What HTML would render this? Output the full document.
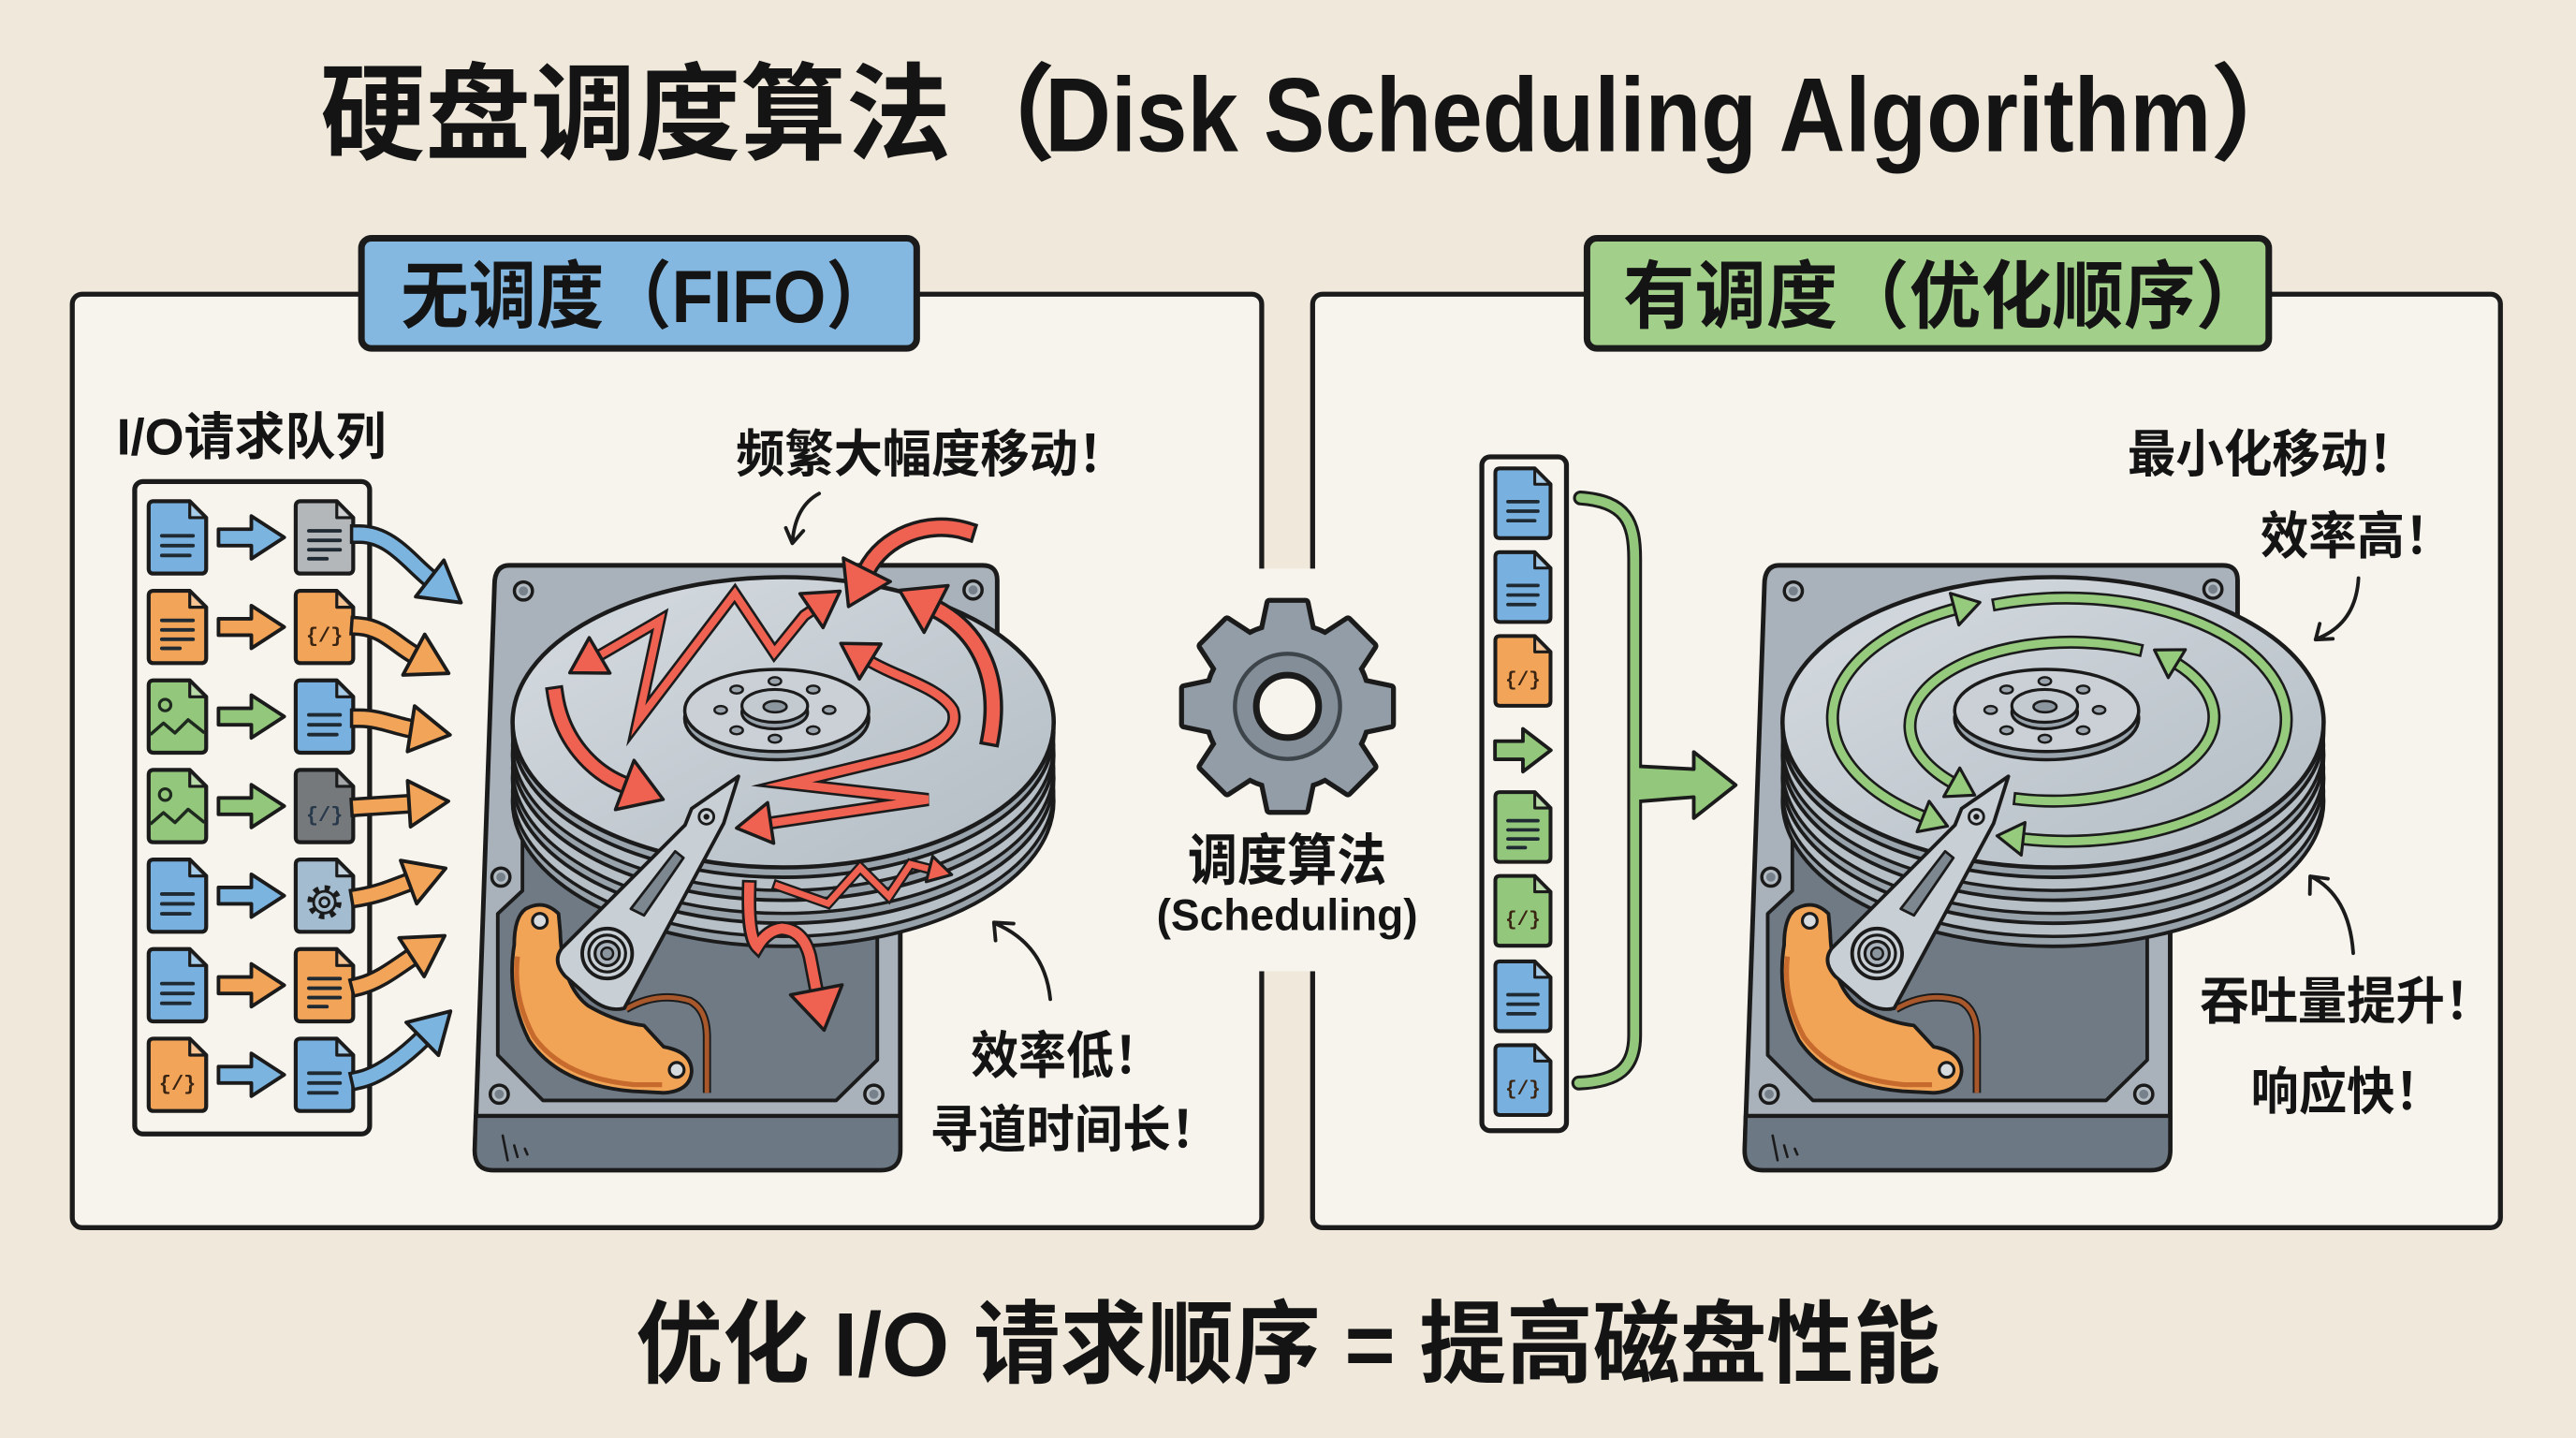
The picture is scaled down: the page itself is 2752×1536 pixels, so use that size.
<!DOCTYPE html>
<html><head><meta charset="utf-8">
<style>
html,body{margin:0;padding:0;background:#efe8db;overflow:hidden}
svg{display:block}
text{font-family:"Liberation Sans","Noto Sans CJK SC",sans-serif;font-weight:700;fill:#141414}
.code{font-family:"Liberation Mono","DejaVu Sans Mono",monospace;font-size:12.5px;font-weight:700;fill:#3a2412}
.d{stroke:#1b1b1b;stroke-width:2.4;stroke-linejoin:round}
.ko{fill:none;stroke:#1b1b1b;stroke-linecap:square;stroke-linejoin:miter;stroke-miterlimit:6}
.kc{fill:none;stroke-linecap:square;stroke-linejoin:miter;stroke-miterlimit:6}
.an{fill:none;stroke:#1b1b1b;stroke-width:2.2;stroke-linecap:round;stroke-linejoin:round}
</style></head><body>
<svg width="2752" height="1536" viewBox="0 0 1568 875" preserveAspectRatio="none" xmlns="http://www.w3.org/2000/svg">
<defs>
 <linearGradient id="plat" x1="0" y1="0" x2="1" y2="1"><stop offset="0" stop-color="#d6dce1"/><stop offset="1" stop-color="#b3bcc4"/></linearGradient>
 <marker id="mb" markerUnits="userSpaceOnUse" viewBox="-3 -3 31 34" refX="1" refY="14" markerWidth="31" markerHeight="34" orient="auto"><path d="M0,0 L24,14 L0,28 Z" fill="#7cb4e0" stroke="#1b1b1b" stroke-width="2.2" stroke-linejoin="round"/></marker>
 <marker id="mo" markerUnits="userSpaceOnUse" viewBox="-3 -3 31 34" refX="1" refY="14" markerWidth="31" markerHeight="34" orient="auto"><path d="M0,0 L24,14 L0,28 Z" fill="#f2a459" stroke="#1b1b1b" stroke-width="2.2" stroke-linejoin="round"/></marker>
 <marker id="rm" markerUnits="userSpaceOnUse" viewBox="-3 -3 28 31" refX="1" refY="12.5" markerWidth="28" markerHeight="31" orient="auto-start-reverse"><path d="M0,0 L21,12.5 L0,25 Z" fill="#ef6150" stroke="#1b1b1b" stroke-width="2" stroke-linejoin="round"/></marker>
 <marker id="rl" markerUnits="userSpaceOnUse" viewBox="-3 -3 32 38" refX="1" refY="16" markerWidth="32" markerHeight="38" orient="auto-start-reverse"><path d="M0,0 L25,16 L0,32 Z" fill="#ef6150" stroke="#1b1b1b" stroke-width="2" stroke-linejoin="round"/></marker>
 <marker id="rs" markerUnits="userSpaceOnUse" viewBox="-3 -3 21 22" refX="1" refY="8" markerWidth="21" markerHeight="22" orient="auto"><path d="M0,0 L14,8 L0,16 Z" fill="#ef6150" stroke="#1b1b1b" stroke-width="1.8" stroke-linejoin="round"/></marker>
 <marker id="mg" markerUnits="userSpaceOnUse" viewBox="-3 -3 23 26" refX="1" refY="10" markerWidth="23" markerHeight="26" orient="auto-start-reverse"><path d="M0,0 L16,10 L0,20 Z" fill="#96cb7e" stroke="#1b1b1b" stroke-width="1.8" stroke-linejoin="round"/></marker>

 <path id="docp" d="M3,0 H25 L35,10 V41 Q35,44 32,44 H3 Q0,44 0,41 V3 Q0,0 3,0 Z"/>
 <path id="fold" d="M25,0 V10 H35 Z" fill="#ffffff" fill-opacity="0.35" stroke="#1b1b1b" stroke-width="1.8" stroke-linejoin="round"/>
 <path id="l3" d="M8,21H27M8,27H27M8,33H25" fill="none" stroke="#1f2a33" stroke-width="2.2" stroke-linecap="round"/>
 <path id="l4" d="M8,18H27M8,23.8H27M8,29.5H27M8,35H19" fill="none" stroke="#1f2a33" stroke-width="2.2" stroke-linecap="round"/>
 <g id="img"><circle cx="10" cy="15" r="3.5" fill="none" stroke="#1f2a1f" stroke-width="1.8"/><polyline points="1,33 9,26 16,32 24,24 34,32" fill="none" stroke="#1f2a1f" stroke-width="2" stroke-linejoin="round"/></g>
 <g id="gearic"><circle cx="17.5" cy="26" r="8.2" fill="none" stroke="#1b1b1b" stroke-width="4.4" stroke-dasharray="3 3.44"/><circle cx="17.5" cy="26" r="6.6" fill="#a6bed0" stroke="#1b1b1b" stroke-width="1.6"/><circle cx="17.5" cy="26" r="2.8" fill="none" stroke="#1b1b1b" stroke-width="1.6"/></g>
 <path id="arr" d="M0,-5 H20 V-13 L40,0 L20,13 V5 H0 Z" stroke="#1b1b1b" stroke-width="2.2" stroke-linejoin="round"/>
 <g id="screw"><circle r="5.5" fill="#b3bbc2" stroke="#1b1b1b" stroke-width="2"/><circle r="2.8" fill="#76818b"/></g>
 <path id="tooth" d="M-15,-44 L-11,-63 L11,-63 L15,-44 Z"/>

 <path id="o1" d="M219,325 C238,325 250,343 262.4,352.6"/>
 <path id="o2" d="M219,381 C233,382 242,393 252.8,398.8"/>
 <path id="o3" d="M219,437 C231,437 241,442 251.2,443.6"/>
 <path id="o4" d="M219,491 L250,489"/>
 <path id="o5" d="M219,546 C231,544 240,540 249.7,536.4"/>
 <path id="o6" d="M219,600 C231,597 242,588 251.4,581.9"/>
 <path id="o7" d="M219,657 C232,654 247,642 257.8,631.4"/>

 <path id="pA" d="M364.1,399.3 L401.5,377.5 L388.4,438.6 L447.3,361.1 L471.3,397.1 L489.5,374.6 L494.8,371"/>
 <path id="pB" d="M588,323 C565,316 538,326 527.2,347.6"/>
 <path id="pC" d="M603,448 C609,415 598,385 568.9,370.1"/>
 <path id="pD" d="M528.8,402 C545,412 572,418 580,432 C585,447 565,456 547.6,460.4 L480,476.8 L565,486.5 L468.1,500.9"/>
 <path id="pE" d="M338,423 C342,450 360,470 381.2,478"/>
 <path id="pF" d="M473.5,539 L504,549.8 L523.6,528 L541,545.4 L554.2,525.8 L566.7,529"/>
 <path id="pG" d="M456,540 Q455,570 461,576 Q467,566 476,565 Q489,566 493,582 L497.1,603.3"/>

 <path id="g1" d="M1216.6,367.5 A133.7,74 0 1 1 1230.5,510.3"/>
 <path id="g2" d="M1171.5,497.2 A133.7,74 0 0 1 1190.7,370.4"/>
 <path id="g3" d="M1300.3,395.1 A98,51 0 0 0 1188.9,476.5"/>
 <path id="g4" d="M1229.4,486.3 A98,51 0 0 0 1324.2,403.3"/>

 <g id="disk">
  <path d="M303,642 L303,556 L318,542 L318,470 L534,470 L534,645 L509,669.6 L330.5,669.6 Z" fill="#6f7a85" stroke="#1b1b1b" stroke-width="2.2" stroke-linejoin="round"/>
  <path d="M289.6,679 L548,679 L548,700 Q548,712 536,712 L300,712 Q289,712 289,700 Z" fill="#6c7883" stroke="#1b1b1b" stroke-width="2.5" stroke-linejoin="round"/>
  <path d="M306,691 L309,706 M313,697 L315,704 M319.5,699 L321,702.5" stroke="#1b1b1b" stroke-width="1.5" stroke-linecap="round"/>
  <use href="#screw" x="318.6" y="359.6"/>
  <use href="#screw" x="304.9" y="533.7"/>
  <use href="#screw" x="303.9" y="665.8"/>
  <use href="#screw" x="531.9" y="665.8"/>
  <ellipse cx="476.7" cy="487.5" rx="164.7" ry="88.3" fill="#98a2ab" stroke="#1b1b1b" stroke-width="2.2"/>
  <ellipse cx="476.7" cy="481.5" rx="164.7" ry="88.3" fill="#b8c0c7" stroke="#1b1b1b" stroke-width="2"/>
  <ellipse cx="476.7" cy="473.5" rx="164.7" ry="88.3" fill="#98a2ab" stroke="#1b1b1b" stroke-width="2.2"/>
  <ellipse cx="476.7" cy="467.5" rx="164.7" ry="88.3" fill="#b8c0c7" stroke="#1b1b1b" stroke-width="2"/>
  <ellipse cx="476.7" cy="459.5" rx="164.7" ry="88.3" fill="#98a2ab" stroke="#1b1b1b" stroke-width="2.2"/>
  <ellipse cx="476.7" cy="453.5" rx="164.7" ry="88.3" fill="#b8c0c7" stroke="#1b1b1b" stroke-width="2"/>
  <ellipse cx="476.7" cy="445.5" rx="164.7" ry="88.3" fill="#9aa4ad" stroke="#1b1b1b" stroke-width="2.2"/>
  <ellipse cx="476.7" cy="439.5" rx="164.7" ry="88.3" fill="url(#plat)" stroke="#1b1b1b" stroke-width="2.6"/>
  <ellipse cx="472.8" cy="437.3" rx="56" ry="25" fill="#9aa4ac" stroke="#1b1b1b" stroke-width="2"/>
  <ellipse cx="472.8" cy="432.3" rx="56" ry="25" fill="#cad0d5" stroke="#1b1b1b" stroke-width="2"/>
  <g fill="#9aa3ab" stroke="#1b1b1b" stroke-width="1.4">
   <ellipse cx="504.7" cy="432" rx="3.8" ry="2.4"/>
   <ellipse cx="495" cy="444.4" rx="3.8" ry="2.4"/>
   <ellipse cx="471.7" cy="449.5" rx="3.8" ry="2.4"/>
   <ellipse cx="448.4" cy="444.4" rx="3.8" ry="2.4"/>
   <ellipse cx="438.7" cy="432" rx="3.8" ry="2.4"/>
   <ellipse cx="448.4" cy="419.6" rx="3.8" ry="2.4"/>
   <ellipse cx="471.7" cy="414.5" rx="3.8" ry="2.4"/>
   <ellipse cx="495" cy="419.6" rx="3.8" ry="2.4"/>
  </g>
  <ellipse cx="471.6" cy="433.5" rx="20" ry="10" fill="#98a2aa" stroke="#1b1b1b" stroke-width="1.8"/>
  <ellipse cx="471.6" cy="429.5" rx="20" ry="10" fill="#c3cad0" stroke="#1b1b1b" stroke-width="1.8"/>
  <ellipse cx="471.8" cy="430" rx="7" ry="3.4" fill="#8c969e" stroke="#1b1b1b" stroke-width="1.5"/>
  <path d="M320,553 Q331,547 340,556 L341,567 Q342,600 358,612 Q375,622 392,624 L404,637 Q421,640 421,652 Q420,664 404,665 L385,664 Q340,660 322,633 Q308,605 313,575 Q313,558 320,553 Z" fill="#f2a456" stroke="#1b1b1b" stroke-width="2.2" stroke-linejoin="round"/>
  <path d="M315,582 Q312,607 325,631 Q343,656 386,660 L403,660" fill="none" stroke="#c66a2d" stroke-width="3"/>
  <circle cx="328.6" cy="560.3" r="4.5" fill="#d7dbde" stroke="#1b1b1b" stroke-width="1.8"/>
  <circle cx="411.9" cy="651" r="4.5" fill="#d7dbde" stroke="#1b1b1b" stroke-width="1.8"/>
  <path d="M381,614 Q400,603 420,609 Q430,614 430.3,630 L430.3,665" fill="none" stroke="#1b1b1b" stroke-width="5"/>
  <path d="M381,614 Q400,603 420,609 Q430,614 430.3,630 L430.3,665" fill="none" stroke="#a9582c" stroke-width="2.8"/>
  <path d="M449.5,472.4 L440.5,501 L380,613.5 Q370,616 360,608 L344,594 Q336,585 342,577 L417,502 L421,492 Z" fill="#c8cfd5" stroke="#1b1b1b" stroke-width="2.2" stroke-linejoin="round"/>
  <path d="M384,553 L392,557 L416,522 L411,518 Z" fill="#7c8790" stroke="#1b1b1b" stroke-width="1.6" stroke-linejoin="round"/>
  <circle cx="430" cy="497" r="4.5" fill="#c8cfd5" stroke="#1b1b1b" stroke-width="1.6"/>
  <circle cx="430" cy="497" r="1.8" fill="#1b1b1b"/>
  <circle cx="369.6" cy="580.2" r="15.2" fill="#c8cfd5" stroke="#1b1b1b" stroke-width="2.2"/>
  <circle cx="369.6" cy="580.2" r="11.2" fill="none" stroke="#1b1b1b" stroke-width="1.8"/>
  <circle cx="369.6" cy="580.2" r="7.4" fill="#aab3bb" stroke="#1b1b1b" stroke-width="1.8"/>
  <circle cx="369.6" cy="580.2" r="3.6" fill="#8a949c" stroke="#1b1b1b" stroke-width="1.4"/>
 </g>
</defs>

<rect width="1568" height="875" fill="#efe8db"/>

<text x="195" y="92" font-size="64">硬盘调度算法（</text>
<text x="636" y="92" font-size="64" textLength="710" lengthAdjust="spacingAndGlyphs">Disk Scheduling Algorithm</text>
<text x="1345" y="92" font-size="64">）</text>

<rect x="44" y="179" width="724" height="568" rx="6" fill="#f7f4ed" stroke="#1b1b1b" stroke-width="3"/>
<rect x="799" y="179" width="723" height="568" rx="6" fill="#f7f4ed" stroke="#1b1b1b" stroke-width="3"/>
<rect x="704" y="346" width="162" height="245" fill="#f7f4ed"/>

<rect x="220" y="145" width="338" height="67" rx="6" fill="#85b8e0" stroke="#1b1b1b" stroke-width="4"/>
<text x="244" y="196" font-size="45" textLength="300" lengthAdjust="spacingAndGlyphs">无调度（FIFO）</text>
<rect x="966" y="145" width="415" height="67" rx="6" fill="#a2cf8a" stroke="#1b1b1b" stroke-width="4"/>
<text x="988" y="196" font-size="45" textLength="392" lengthAdjust="spacingAndGlyphs">有调度（优化顺序）</text>

<text x="71" y="276.5" font-size="31" textLength="164" lengthAdjust="spacingAndGlyphs">I/O请求队列</text>
<rect x="82" y="293" width="143" height="397" rx="5" fill="#f7f4ed" stroke="#1b1b1b" stroke-width="3"/>

<g transform="translate(90.5,305)"><use href="#docp" class="d" fill="#78b1df"/><use href="#fold"/><use href="#l3"/></g>
<g transform="translate(90.5,359.5)"><use href="#docp" class="d" fill="#f2a459"/><use href="#fold"/><use href="#l4"/></g>
<g transform="translate(90.5,414)"><use href="#docp" class="d" fill="#93c87c"/><use href="#fold"/><use href="#img"/></g>
<g transform="translate(90.5,468.5)"><use href="#docp" class="d" fill="#93c87c"/><use href="#fold"/><use href="#img"/></g>
<g transform="translate(90.5,523)"><use href="#docp" class="d" fill="#78b1df"/><use href="#fold"/><use href="#l3"/></g>
<g transform="translate(90.5,577.5)"><use href="#docp" class="d" fill="#78b1df"/><use href="#fold"/><use href="#l3"/></g>
<g transform="translate(90.5,632)"><use href="#docp" class="d" fill="#f2a459"/><use href="#fold"/><text x="17.5" y="31" text-anchor="middle" class="code">{/}</text></g>

<g transform="translate(180,305)"><use href="#docp" class="d" fill="#b4b7b9"/><use href="#fold"/><use href="#l4"/></g>
<g transform="translate(180,359.5)"><use href="#docp" class="d" fill="#f2a459"/><use href="#fold"/><text x="17.5" y="31" text-anchor="middle" class="code">{/}</text></g>
<g transform="translate(180,414)"><use href="#docp" class="d" fill="#78b1df"/><use href="#fold"/><use href="#l3"/></g>
<g transform="translate(180,468.5)"><use href="#docp" class="d" fill="#76797b"/><use href="#fold"/><text x="17.5" y="31" text-anchor="middle" class="code" style="fill:#26384a">{/}</text></g>
<g transform="translate(180,523)"><use href="#docp" class="d" fill="#a3bccf"/><use href="#fold"/><use href="#gearic"/></g>
<g transform="translate(180,577.5)"><use href="#docp" class="d" fill="#f2a459"/><use href="#fold"/><use href="#l4"/></g>
<g transform="translate(180,632)"><use href="#docp" class="d" fill="#78b1df"/><use href="#fold"/><use href="#l3"/></g>

<use href="#arr" x="133" y="327" fill="#7cb4e0"/>
<use href="#arr" x="133" y="381.5" fill="#f2a459"/>
<use href="#arr" x="133" y="436" fill="#93c87c"/>
<use href="#arr" x="133" y="490.5" fill="#93c87c"/>
<use href="#arr" x="133" y="545" fill="#7cb4e0"/>
<use href="#arr" x="133" y="599.5" fill="#f2a459"/>
<use href="#arr" x="133" y="654" fill="#7cb4e0"/>

<g class="ko" stroke-width="12">
 <use href="#o1"/><use href="#o2"/><use href="#o3"/><use href="#o4"/><use href="#o5"/><use href="#o6"/><use href="#o7"/>
</g>
<g class="kc" stroke-width="8">
 <use href="#o1" stroke="#7cb4e0" marker-end="url(#mb)"/>
 <use href="#o2" stroke="#f2a459" marker-end="url(#mo)"/>
 <use href="#o3" stroke="#f2a459" marker-end="url(#mo)"/>
 <use href="#o4" stroke="#f2a459" marker-end="url(#mo)"/>
 <use href="#o5" stroke="#f2a459" marker-end="url(#mo)"/>
 <use href="#o6" stroke="#f2a459" marker-end="url(#mo)"/>
 <use href="#o7" stroke="#7cb4e0" marker-end="url(#mb)"/>
</g>

<!-- Left disk -->
<path d="M310,344 L598,344 Q607,344 607,353 L607,450 L548,545 L548,700 Q548,712 536,712 L300,712 Q289,712 289,700 L301,356 Q301,344 310,344 Z" fill="#a9b2ba" stroke="#1b1b1b" stroke-width="2.8" stroke-linejoin="round"/>
<use href="#screw" x="592.3" y="359"/>
<use href="#disk"/>
<g class="ko">
 <use href="#pA" stroke-width="7.5"/>
 <use href="#pB" stroke-width="12"/>
 <use href="#pC" stroke-width="12"/>
 <use href="#pD" stroke-width="8"/>
 <use href="#pE" stroke-width="11"/>
 <use href="#pF" stroke-width="6.5"/>
 <use href="#pG" stroke-width="9"/>
</g>
<g class="kc" stroke="#ef6150">
 <use href="#pA" stroke-width="4.5" marker-start="url(#rm)" marker-end="url(#rm)"/>
 <use href="#pB" stroke-width="8" marker-end="url(#rl)"/>
 <use href="#pC" stroke-width="8" marker-end="url(#rl)"/>
 <use href="#pD" stroke-width="5" marker-start="url(#rm)" marker-end="url(#rm)"/>
 <use href="#pE" stroke-width="7.5" marker-end="url(#rl)"/>
 <use href="#pF" stroke-width="3.8" marker-end="url(#rs)"/>
 <use href="#pG" stroke-width="6" marker-end="url(#rl)"/>
</g>

<text x="448" y="287" font-size="31" textLength="238" lengthAdjust="spacingAndGlyphs">频繁大幅度移动！</text>
<path class="an" d="M498.6,300.3 Q484,308 482.3,330 M478.3,321.2 L482.3,330.6 L489,323"/>
<text x="591" y="653" font-size="31" textLength="116" lengthAdjust="spacingAndGlyphs">效率低！</text>
<text x="566" y="698" font-size="31" textLength="176" lengthAdjust="spacingAndGlyphs">寻道时间长！</text>
<path class="an" d="M639.3,608 Q636,575 606,562 M606,572.3 L605,561.3 L617,562"/>

<g transform="translate(783.7,429.8)">
 <g fill="#1b1b1b" stroke="#1b1b1b" stroke-width="6" stroke-linejoin="round">
  <circle r="49"/>
  <use href="#tooth"/><use href="#tooth" transform="rotate(45)"/><use href="#tooth" transform="rotate(90)"/><use href="#tooth" transform="rotate(135)"/>
  <use href="#tooth" transform="rotate(180)"/><use href="#tooth" transform="rotate(225)"/><use href="#tooth" transform="rotate(270)"/><use href="#tooth" transform="rotate(315)"/>
 </g>
 <g fill="#929da7">
  <circle r="49"/>
  <use href="#tooth"/><use href="#tooth" transform="rotate(45)"/><use href="#tooth" transform="rotate(90)"/><use href="#tooth" transform="rotate(135)"/>
  <use href="#tooth" transform="rotate(180)"/><use href="#tooth" transform="rotate(225)"/><use href="#tooth" transform="rotate(270)"/><use href="#tooth" transform="rotate(315)"/>
 </g>
 <circle r="32" fill="#838e98" stroke="#3d444a" stroke-width="2.5"/>
 <circle r="19" fill="#f7f4ed" stroke="#1b1b1b" stroke-width="4"/>
</g>
<text x="723" y="535.5" font-size="34" textLength="121" lengthAdjust="spacingAndGlyphs">调度算法</text>
<text x="704" y="566" font-size="27" textLength="159" lengthAdjust="spacingAndGlyphs">(Scheduling)</text>

<rect x="902" y="278" width="51.5" height="410" rx="5" fill="#f7f4ed" stroke="#1b1b1b" stroke-width="3"/>
<g transform="translate(910.2,285) scale(0.96,0.965)"><use href="#docp" class="d" fill="#78b1df"/><use href="#fold"/><use href="#l3"/></g>
<g transform="translate(910.2,336) scale(0.96,0.965)"><use href="#docp" class="d" fill="#78b1df"/><use href="#fold"/><use href="#l3"/></g>
<g transform="translate(910.2,387) scale(0.96,0.965)"><use href="#docp" class="d" fill="#f2a459"/><use href="#fold"/><text x="17.5" y="31" text-anchor="middle" class="code">{/}</text></g>
<path d="M910,451 L927,451 L927,443.5 L944,456.5 L927,469.5 L927,462 L910,462 Z" fill="#93c87c" stroke="#1b1b1b" stroke-width="2.2" stroke-linejoin="round"/>
<g transform="translate(910.2,482) scale(0.96,0.965)"><use href="#docp" class="d" fill="#93c87c"/><use href="#fold"/><use href="#l4"/></g>
<g transform="translate(910.2,533) scale(0.96,0.965)"><use href="#docp" class="d" fill="#93c87c"/><use href="#fold"/><text x="17.5" y="31" text-anchor="middle" class="code">{/}</text></g>
<g transform="translate(910.2,585) scale(0.96,0.965)"><use href="#docp" class="d" fill="#78b1df"/><use href="#fold"/><use href="#l3"/></g>
<g transform="translate(910.2,636) scale(0.96,0.965)"><use href="#docp" class="d" fill="#78b1df"/><use href="#fold"/><text x="17.5" y="31" text-anchor="middle" class="code">{/}</text></g>

<path d="M962,303 C990,305 995,318 995,340 L995,630 C995,650 985,658 961,659" fill="none" stroke="#1b1b1b" stroke-width="9" stroke-linecap="round"/>
<path d="M993,466 L1031,468 L1031,457.6 L1056.5,477.7 L1031,497.8 L1031,485 L993,488 Z" fill="#93c87c" stroke="#1b1b1b" stroke-width="2.2" stroke-linejoin="round"/>
<path d="M962,303 C990,305 995,318 995,340 L995,630 C995,650 985,658 961,659" fill="none" stroke="#93c87c" stroke-width="5.5" stroke-linecap="round"/>

<!-- Right disk -->
<g transform="translate(773,0)">
 <path d="M310,344 L580,344 Q589,344 589,353 L589,450 L548,545 L548,700 Q548,712 536,712 L300,712 Q289,712 289,700 L301,356 Q301,344 310,344 Z" fill="#a9b2ba" stroke="#1b1b1b" stroke-width="2.8" stroke-linejoin="round"/>
 <use href="#screw" x="574" y="358.5"/>
 <use href="#disk"/>
</g>
<g class="ko" stroke-width="8">
 <use href="#g1"/><use href="#g2"/><use href="#g3"/><use href="#g4"/>
</g>
<g fill="none" stroke="#96cb7e" stroke-width="5" stroke-linecap="square">
 <use href="#g1" marker-end="url(#mg)"/>
 <use href="#g2" marker-start="url(#mg)" marker-end="url(#mg)"/>
 <use href="#g3" marker-end="url(#mg)"/>
 <use href="#g4" marker-end="url(#mg)"/>
</g>

<text x="1295" y="287" font-size="31" textLength="176" lengthAdjust="spacingAndGlyphs">最小化移动！</text>
<text x="1376" y="337" font-size="31" textLength="117" lengthAdjust="spacingAndGlyphs">效率高！</text>
<path class="an" d="M1435.6,351.8 Q1434,380 1409.5,389 M1412,379.5 L1409.5,389.2 L1420,388.7"/>
<text x="1339" y="620" font-size="31" textLength="179" lengthAdjust="spacingAndGlyphs">吞吐量提升！</text>
<text x="1370" y="675" font-size="31" textLength="117" lengthAdjust="spacingAndGlyphs">响应快！</text>
<path class="an" d="M1432.4,580 Q1430,545 1406.5,533.2 M1406,544 L1406.2,533.2 L1417,534.7"/>

<text x="387" y="837" font-size="55" textLength="794" lengthAdjust="spacingAndGlyphs">优化 I/O 请求顺序 = 提高磁盘性能</text>
</svg>
</body></html>
